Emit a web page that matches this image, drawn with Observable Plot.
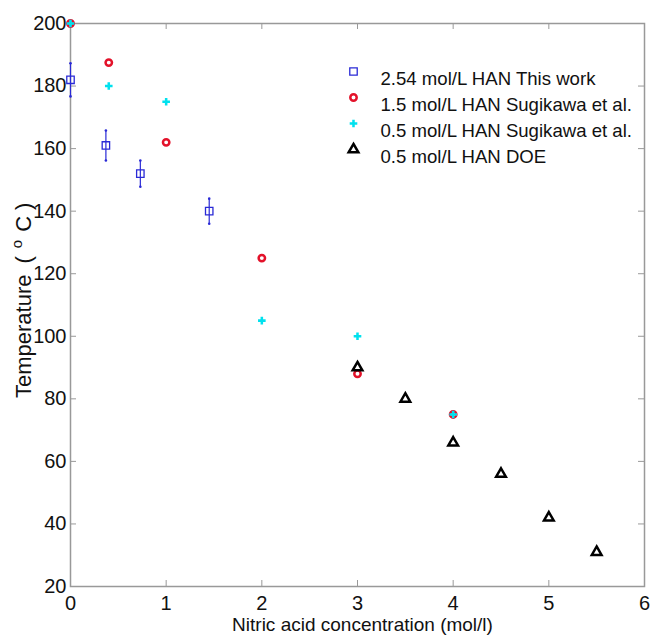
<!DOCTYPE html>
<html><head><meta charset="utf-8">
<script src="https://cdn.jsdelivr.net/npm/d3@7"></script>
<script src="https://cdn.jsdelivr.net/npm/@observablehq/plot@0.6"></script>
<style>body{margin:0;background:#fff}</style>
</head><body><div id="chart"></div>
<script>
// ---- data ----
const xTicks = [0, 1, 2, 3, 4, 5, 6];
const yTicks = [20, 40, 60, 80, 100, 120, 140, 160, 180, 200];

const thisWorkX = [0, 0.37, 0.73, 1.45];
const thisWorkY = [182, 161, 152, 140];
const thisWorkErr = [5.3, 4.8, 4.2, 4];

const sugi15X = [0, 0.4, 1, 2, 3, 4];
const sugi15Y = [200, 187.5, 162, 125, 88, 75];

const sugi05X = [0, 0.4, 1, 2, 3, 4];
const sugi05Y = [200, 180, 175, 105, 100, 75];

const doeX = [3, 3.5, 4, 4.5, 5, 5.5];
const doeY = [90, 80, 66, 56, 42, 31];

const legendLabels = [
  "2.54 mol/L HAN This work",
  "1.5 mol/L HAN Sugikawa et al.",
  "0.5 mol/L HAN Sugikawa et al.",
  "0.5 mol/L HAN DOE"
];
const xLabel = "Nitric acid concentration (mol/l)";

// ---- tables ----
const thisWork = thisWorkX.map((x, i) => ({x, y: thisWorkY[i], lo: thisWorkY[i] - thisWorkErr[i], hi: thisWorkY[i] + thisWorkErr[i]}));
const sugi15 = sugi15X.map((x, i) => ({x, y: sugi15Y[i]}));
const sugi05 = sugi05X.map((x, i) => ({x, y: sugi05Y[i]}));
const doe = doeX.map((x, i) => ({x, y: doeY[i]}));

const W = 654, H = 640;
const mL = 70, mR = 10, mT = 23, mB = 54;
const innerW = W - mL - mR, innerH = H - mT - mB;
const FONT = "'Liberation Sans', Arial, Helvetica, sans-serif";
const BLUE = "#2a2ad6", RED = "#e3122a", CYAN = "#00e1ee", BLACK = "#000";
const AX = "#999";

const styles = [
  {symbol: "square", r: 4.2, fill: "none", stroke: BLUE, strokeWidth: 1.3},
  {symbol: "circle", r: 3.2, fill: "none", stroke: RED, strokeWidth: 2.5},
  {symbol: "cross", r: 3.2, fill: CYAN, stroke: "none"},
  {symbol: "triangle", r: 3.6, fill: "none", stroke: BLACK, strokeWidth: 2.5}
];

const legendMarks = legendLabels.flatMap((lab, i) => [
  Plot.dot([lab], {frameAnchor: "top-left", dx: 283, dy: 48 + 26 * i, ...styles[i]}),
  Plot.text([lab], {text: d => d, frameAnchor: "top-left", dx: 310, dy: 48 + 26 * i, textAnchor: "start", fontSize: 18.6, fill: "#111"})
]);

const plot = Plot.plot({
  width: W, height: H,
  marginLeft: mL, marginRight: mR, marginTop: mT, marginBottom: mB,
  style: {fontFamily: FONT, fontSize: "20px", background: "#fff", color: "#111"},
  x: {domain: [0, 6], axis: null},
  y: {domain: [20, 200], axis: null},
  marks: [
    Plot.frame({stroke: AX, strokeWidth: 1.5}),
    Plot.tickX(xTicks, {x: d => d, stroke: AX, insetTop: innerH - 6}),
    Plot.tickX(xTicks, {x: d => d, stroke: AX, insetBottom: innerH - 6}),
    Plot.tickY(yTicks, {y: d => d, stroke: AX, insetRight: innerW - 6}),
    Plot.tickY(yTicks, {y: d => d, stroke: AX, insetLeft: innerW - 6}),
    Plot.axisX(xTicks, {tickSize: 0, tickPadding: 9, label: null, fill: "#111"}),
    Plot.axisY(yTicks, {tickSize: 0, tickPadding: 4, label: null, fill: "#111"}),
    // error bars
    Plot.ruleX(thisWork, {x: "x", y1: "lo", y2: "hi", stroke: BLUE, strokeWidth: 1.2}),
    Plot.dot(thisWork, {x: "x", y: "lo", r: 1.3, fill: BLUE}),
    Plot.dot(thisWork, {x: "x", y: "hi", r: 1.3, fill: BLUE}),
    Plot.dot(thisWork, {x: "x", y: "y", ...styles[0]}),
    Plot.dot(sugi15, {x: "x", y: "y", ...styles[1]}),
    Plot.dot(sugi05, {x: "x", y: "y", ...styles[2]}),
    Plot.dot(doe, {x: "x", y: "y", ...styles[3]}),
    Plot.text([xLabel], {text: d => d, frameAnchor: "bottom", dx: 5, dy: 44, fontSize: 19, fill: "#111"}),
    ...legendMarks
  ]
});

// y-axis label with superscript (MATLAB-style spaced TeX rendering)
const svg = d3.select(plot);
const yl = svg.append("text")
  .attr("transform", `translate(31, 398) rotate(-90)`)
  .attr("text-anchor", "start")
  .style("font-size", "22px")
  .style("font-family", FONT)
  .attr("fill", "#111");
yl.append("tspan").text("Temperature");
yl.append("tspan").attr("dx", 11).text("(");
yl.append("tspan").attr("dx", 8).attr("dy", -9).style("font-size", "15px").text("o");
yl.append("tspan").attr("dx", 8).attr("dy", 9).text("C");
yl.append("tspan").attr("dx", 6).text(")");

document.getElementById("chart").append(plot);
</script>
</body></html>
